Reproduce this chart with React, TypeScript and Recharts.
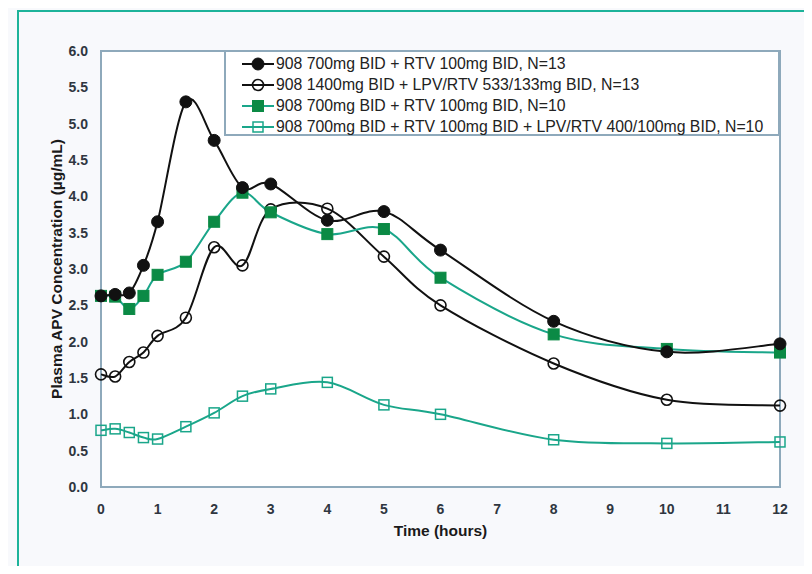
import React from "react";
import {
  LineChart,
  Line,
  XAxis,
  YAxis,
  Legend,
  ReferenceArea,
} from "recharts";

const hours = [0, 0.25, 0.5, 0.75, 1, 1.5, 2, 2.5, 3, 4, 5, 6, 8, 10, 12];

const rtv13 = [2.63, 2.65, 2.67, 3.05, 3.65, 5.3, 4.77, 4.12, 4.17, 3.67, 3.79, 3.26, 2.28, 1.86, 1.97];
const lpv13 = [1.55, 1.52, 1.72, 1.85, 2.08, 2.33, 3.3, 3.05, 3.82, 3.83, 3.17, 2.5, 1.7, 1.2, 1.12];
const rtv10 = [2.63, 2.62, 2.45, 2.63, 2.92, 3.1, 3.65, 4.05, 3.78, 3.48, 3.55, 2.88, 2.1, 1.9, 1.85];
const lpv10 = [0.78, 0.8, 0.75, 0.68, 0.66, 0.83, 1.02, 1.25, 1.35, 1.44, 1.13, 1.0, 0.65, 0.6, 0.62];

const seriesNames = [
  "908 700mg BID + RTV 100mg BID, N=13",
  "908 1400mg BID + LPV/RTV 533/133mg BID, N=13",
  "908 700mg BID + RTV 100mg BID, N=10",
  "908 700mg BID + RTV 100mg BID + LPV/RTV 400/100mg BID, N=10",
];

const xTicks = [0, 1, 2, 3, 4, 5, 6, 7, 8, 9, 10, 11, 12];
const yTicks = [0, 0.5, 1, 1.5, 2, 2.5, 3, 3.5, 4, 4.5, 5, 5.5, 6];

const data = hours.map((h, i) => ({
  t: h,
  a: rtv13[i],
  b: lpv13[i],
  c: rtv10[i],
  d: lpv10[i],
}));

const BLACK = "#111111";
const GREEN_LINE = "#1aa68a";
const GREEN_FILL = "#0b8a45";
const FRAME = "#8ea9bb";
const TICK = "#2f3640";
const FONT = "'Liberation Sans', Arial, sans-serif";

// excel-style smoothed line (catmull-rom through the points)
function smoothCurve(context: any) {
  let pts: number[][] = [];
  return {
    areaStart() {},
    areaEnd() {},
    lineStart() {
      pts = [];
    },
    point(x: number, y: number) {
      pts.push([+x, +y]);
    },
    lineEnd() {
      if (!pts.length) return;
      context.moveTo(pts[0][0], pts[0][1]);
      for (let i = 0; i < pts.length - 1; i++) {
        const p0 = pts[i - 1] || pts[i];
        const p1 = pts[i];
        const p2 = pts[i + 1];
        const p3 = pts[i + 2] || p2;
        context.bezierCurveTo(
          p1[0] + (p2[0] - p0[0]) / 6,
          p1[1] + (p2[1] - p0[1]) / 6,
          p2[0] - (p3[0] - p1[0]) / 6,
          p2[1] - (p3[1] - p1[1]) / 6,
          p2[0],
          p2[1]
        );
      }
    },
  };
}

const Marker = ({ kind, x, y }: { kind: number; x: number; y: number }) => {
  if (kind === 0) return <circle cx={x} cy={y} r={6} fill={BLACK} stroke={BLACK} />;
  if (kind === 1) return <circle cx={x} cy={y} r={5.5} fill="none" stroke={BLACK} strokeWidth={1.6} />;
  if (kind === 2)
    return <rect x={x - 5.5} y={y - 5.5} width={11} height={11} fill={GREEN_FILL} stroke={GREEN_FILL} />;
  return (
    <rect x={x - 5} y={y - 5} width={10} height={10} fill="none" stroke={GREEN_LINE} strokeWidth={1.5} />
  );
};

const dotFor = (kind: number) => (p: any) =>
  <g key={`dot-${kind}-${p.index}`}><Marker kind={kind} x={p.cx} y={p.cy} /></g>;

const lineColors = [BLACK, BLACK, GREEN_LINE, GREEN_LINE];

const LegendBox = () => (
  <div
    style={{
      border: `2px solid ${FRAME}`,
      background: "#ffffff",
      boxSizing: "border-box",
      width: 556,
      height: 86,
      padding: "2px 0 0 16px",
      fontFamily: FONT,
      fontSize: 15.8,
      color: "#222",
      whiteSpace: "nowrap",
    }}
  >
    {seriesNames.map((name, i) => (
      <div key={name} style={{ display: "flex", alignItems: "center", height: 20.8 }}>
        <svg width={32} height={16} style={{ marginRight: 2, flex: "none" }}>
          <line x1={0} y1={8} x2={32} y2={8} stroke={lineColors[i]} strokeWidth={2} />
          <Marker kind={i} x={16} y={8} />
        </svg>
        <span>{name}</span>
      </div>
    ))}
  </div>
);

export default function App() {
  return (
    <div
      style={{
        position: "relative",
        margin: -8,
        width: 812,
        height: 574,
        overflow: "hidden",
        background: "#f8f9fc",
      }}
    >
      <div
        style={{
          position: "absolute",
          left: 17,
          top: 10,
          width: 820,
          height: 600,
          border: "2px solid #1db39a",
        }}
      />
      <div style={{ position: "absolute", left: 0, top: 0 }}>
        <LineChart
          width={812}
          height={574}
          data={data}
          margin={{ top: 51, right: 32, bottom: 30, left: 0 }}
          style={{ fontFamily: FONT }}
        >
          <ReferenceArea x1={0} x2={12} y1={0} y2={6} fill="#ffffff" fillOpacity={1} stroke={FRAME} strokeWidth={2} />
          <XAxis
            dataKey="t"
            type="number"
            domain={[0, 12]}
            ticks={xTicks}
            height={57}
            tickSize={0}
            tickMargin={17}
            axisLine={false}
            tick={{ fill: TICK, fontSize: 14, fontWeight: "bold" }}
            label={{
              value: "Time (hours)",
              position: "insideBottom",
              offset: 8,
              fill: "#1a1a1a",
              fontSize: 15.5,
              fontWeight: "bold",
            }}
          />
          <YAxis
            type="number"
            domain={[0, 6]}
            ticks={yTicks}
            width={101}
            tickSize={0}
            tickMargin={13}
            axisLine={false}
            tickFormatter={(v: number) => v.toFixed(1)}
            tick={{ fill: TICK, fontSize: 14, fontWeight: "bold" }}
            label={{
              value: "Plasma APV Concentration (µg/mL)",
              angle: -90,
              position: "center",
              dx: 6,
              fill: "#1a1a1a",
              fontSize: 15.5,
              fontWeight: "bold",
            }}
          />
          <Legend
            layout="horizontal"
            verticalAlign="middle"
            align="center"
            wrapperStyle={{ left: 224, top: 50, width: 556 }}
            content={() => <LegendBox />}
          />
          <Line dataKey="d" type={smoothCurve as any} stroke={GREEN_LINE} strokeWidth={2} dot={dotFor(3)} isAnimationActive={false} />
          <Line dataKey="b" type={smoothCurve as any} stroke={BLACK} strokeWidth={2} dot={dotFor(1)} isAnimationActive={false} />
          <Line dataKey="c" type={smoothCurve as any} stroke={GREEN_LINE} strokeWidth={2} dot={dotFor(2)} isAnimationActive={false} />
          <Line dataKey="a" type={smoothCurve as any} stroke={BLACK} strokeWidth={2} dot={dotFor(0)} isAnimationActive={false} />
        </LineChart>
      </div>
    </div>
  );
}
